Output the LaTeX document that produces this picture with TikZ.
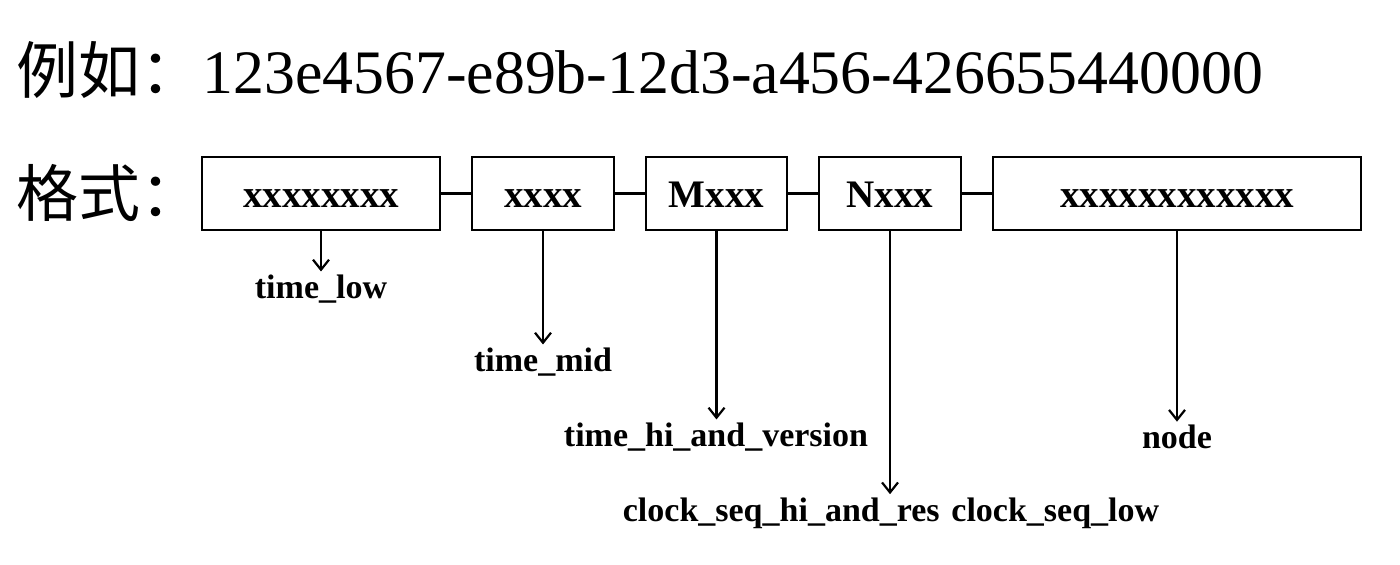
\documentclass[tikz,border=0pt]{standalone}
\usepackage{fontspec}
\setmainfont{Liberation Serif}
\newfontfamily\cjk{Noto Sans CJK SC}
\usetikzlibrary{arrows.meta,positioning,calc}

\begin{document}
\begin{tikzpicture}[
        x=0.5pt, y=-0.5pt,
        fieldBox/.style={
            draw,
            line width=0.75pt,
            minimum height=36.5pt,
            inner sep=0pt,
            text height=13.5pt,
            text depth=0pt,
            font=\fontsize{19.5}{22}\selectfont\bfseries
        },
        fieldLabel/.style={
            inner sep=1.5pt,
            font=\fontsize{17}{20}\selectfont\bfseries
        },
        linkLine/.style={
            line width=1.3pt
        },
        fieldArrow/.style={
            -{Straight Barb[length=5pt,width=8pt]},
            line width=1.1pt
        },
        bigText/.style={
            anchor=west,
            inner sep=0pt,
            font=\fontsize{30.9}{38}\selectfont
        }
    ]

        \useasboundingbox (0,0) rectangle (1400,564);

        % Example and format titles
        \node[bigText] (example) at (16,70) {{\cjk\fontsize{31}{38}\selectfont 例如：}123e4567-e89b-12d3-a456-426655440000};
        \node[bigText] (format) at (16,193) {\cjk\fontsize{31}{38}\selectfont 格式：};

        % Fields
        \node[fieldBox, minimum width=119pt] (timeLow) at (321,193.5) {xxxxxxxx};
        \node[fieldBox, minimum width=71pt] (timeMid) at (543,193.5) {xxxx};
        \node[fieldBox, minimum width=70.5pt] (timeHi) at (716.5,193.5) {Mxxx};
        \node[fieldBox, minimum width=71pt] (clockSeq) at (890,193.5) {Nxxx};
        \node[fieldBox, minimum width=184pt] (nodeId) at (1177,193.5) {xxxxxxxxxxxx};

        \draw[linkLine] (timeLow) -- (timeMid);
        \draw[linkLine] (timeMid) -- (timeHi);
        \draw[linkLine] (timeHi) -- (clockSeq);
        \draw[linkLine] (clockSeq) -- (nodeId);

        % Field names
        \node[fieldLabel] (lowName) at (321,289) {time\_low};
        \node[fieldLabel] (midName) at (543,362) {time\_mid};
        \node[fieldLabel] (hiName) at (716,437) {time\_hi\_and\_version};
        \node[fieldLabel] (nodeName) at (1177,437) {node};
        \node[fieldLabel, anchor=east] (seqHiName) at (943,513) {clock\_seq\_hi\_and\_res};
        \node[fieldLabel, anchor=west] (seqLowName) at (948,513) {clock\_seq\_low};

        \draw[fieldArrow] (timeLow) -- (lowName);
        \draw[fieldArrow] (timeMid) -- (midName);
        \draw[fieldArrow] (timeHi) -- (timeHi |- hiName.north);
        \draw[fieldArrow] (nodeId) -- (nodeName);
        \draw[fieldArrow] (clockSeq) -- (clockSeq |- seqHiName.north);

    \end{tikzpicture}
\end{document}
